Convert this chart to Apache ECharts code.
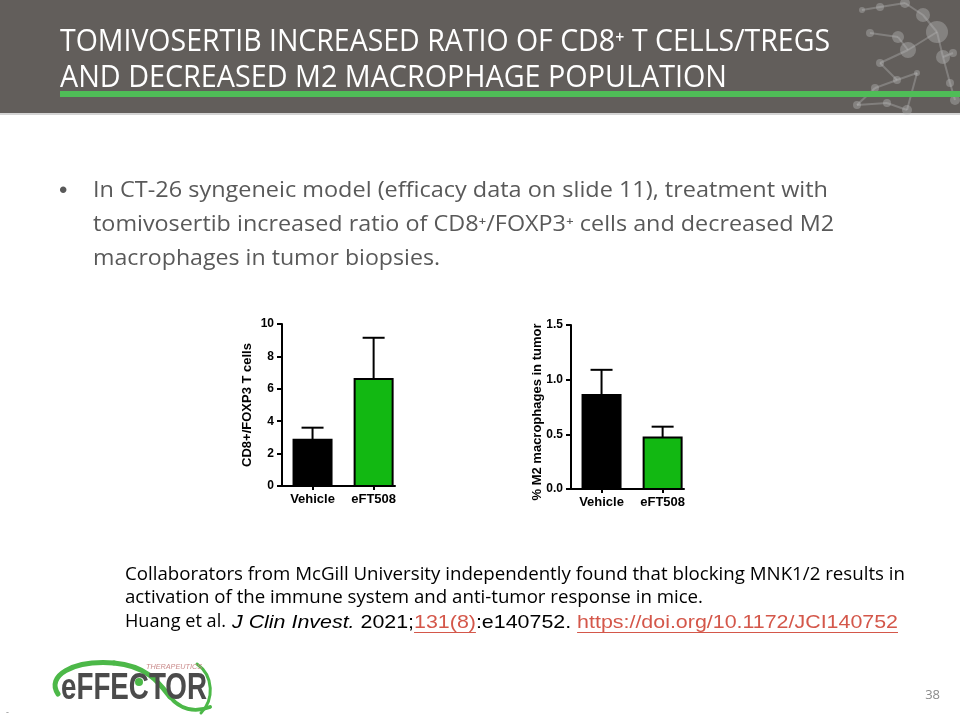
<!DOCTYPE html>
<html>
<head>
<meta charset="utf-8">
<script src="https://cdn.jsdelivr.net/npm/echarts@6/dist/echarts.min.js"></script>
<style>
html,body{margin:0;padding:0;background:#fff;}
#c{width:960px;height:720px;}
</style>
</head>
<body>
<div id="c"></div>
<script>
// ---------- data ----------
const categories = ['Vehicle', 'eFT508'];
const cd8Mean = [2.85, 6.6];
const cd8Upper = [3.6, 9.15];     // top of error bar (mean + SEM)
const m2Mean = [0.86, 0.47];
const m2Upper = [1.09, 0.57];
const barFill = ['#000000', '#12b812'];

const titleLines = ['TOMIVOSERTIB INCREASED RATIO OF CD8\u207A T CELLS/TREGS', 'AND DECREASED M2 MACROPHAGE POPULATION'];
const bulletLines = ['In CT-26 syngeneic model (efficacy data on slide 11), treatment with',
  'tomivosertib increased ratio of CD8\u207A/FOXP3\u207A cells and decreased M2',
  'macrophages in tumor biopsies.'];
const footLines = ['Collaborators from McGill University independently found that blocking MNK1/2 results in',
  'activation of the immune system and anti-tumor response in mice.'];
const refPieces = [
  {t: 'J Clin Invest.', italic: true, red: false},
  {t: ' 2021;', italic: false, red: false},
  {t: '131(8)', italic: false, red: true},
  {t: ':e140752. ', italic: false, red: false},
  {t: 'https://doi.org/10.1172/JCI140752', italic: false, red: true}
];

// ---------- helpers ----------
const mctx = document.createElement('canvas').getContext('2d');
function mw(font, s) { mctx.font = font; return mctx.measureText(s).width; }
function fitText(s, x, y, font, target, fill) {
  const sc = target / mw(font, s);
  return {type: 'text', x: x, y: y, scaleX: sc, z: 10,
    style: {text: s, font: font, fill: fill, align: 'left', verticalAlign: 'middle'}};
}
function bez(p, stroke, lw) {
  return {type: 'bezierCurve', z: 10,
    shape: {x1: p[0], y1: p[1], cpx1: p[2], cpy1: p[3], cpx2: p[4], cpy2: p[5], x2: p[6], y2: p[7]},
    style: {stroke: stroke, lineWidth: lw, fill: null, lineCap: 'round'}};
}

const els = [];
// header
els.push({type: 'rect', shape: {x: 0, y: 0, width: 960, height: 113}, style: {fill: '#625e5b'}, z: 1});
els.push({type: 'rect', shape: {x: 0, y: 113, width: 960, height: 2}, style: {fill: '#d4d4d4'}, z: 1});
// molecule decoration
const mol = [[923,15,7],[905,3,5],[898,37,6],[908,50,8],[937,32,11],[943,57,7],[953,53,4],[870,33,4],
  [880,63,4],[897,80,4],[917,73,3],[875,88,4],[857,105,4],[887,103,4],[907,110,5],[950,83,4],[880,7,4],[862,10,3],[955,100,5]];
const links = [[0,1],[0,4],[2,3],[3,4],[4,5],[5,6],[2,7],[3,8],[8,9],[9,10],[9,11],[11,12],[12,13],[13,14],[5,15],[1,16],[16,17],[15,18],[10,14]];
links.forEach(function (l) {
  els.push({type: 'line', z: 2, shape: {x1: mol[l[0]][0], y1: mol[l[0]][1], x2: mol[l[1]][0], y2: mol[l[1]][1]},
    style: {stroke: 'rgba(190,190,190,0.35)', lineWidth: 2}});
});
mol.forEach(function (m) {
  els.push({type: 'circle', z: 3, shape: {cx: m[0], cy: m[1], r: m[2]}, style: {fill: 'rgba(185,185,185,0.4)'}});
});
els.push({type: 'rect', shape: {x: 60, y: 91, width: 900, height: 6}, style: {fill: '#4fbd57'}, z: 5});
// title
const tFont = '31px "Open Sans"';
els.push(fitText(titleLines[0], 60, 42, tFont, 770, '#ffffff'));
els.push(fitText(titleLines[1], 60, 78, tFont, 667, '#ffffff'));
// bullet
const bFont = '21px "Open Sans"';
els.push({type: 'text', x: 59, y: 191, z: 10, style: {text: '\u2022', font: '24px "Liberation Sans"', fill: '#595959', align: 'left', verticalAlign: 'middle'}});
els.push(fitText(bulletLines[0], 93, 191, bFont, 735, '#595959'));
els.push(fitText(bulletLines[1], 93, 225, bFont, 741, '#595959'));
els.push(fitText(bulletLines[2], 93, 259, bFont, 347, '#595959'));
// footer text
const fFont = '18px "Open Sans"';
els.push(fitText(footLines[0], 125, 575, fFont, 780, '#000000'));
els.push(fitText(footLines[1], 125, 598, fFont, 578, '#000000'));
els.push(fitText('Huang et al.', 125, 622, fFont, 101, '#000000'));
(function () {
  const redC = '#d4574a';
  const fonts = refPieces.map(function (p) { return (p.italic ? 'italic ' : '') + '19px "Liberation Sans"'; });
  let total = 0;
  const ws = refPieces.map(function (p, i) { const w = mw(fonts[i], p.t); total += w; return w; });
  const sc = (898 - 232) / total;
  let x = 232;
  refPieces.forEach(function (p, i) {
    els.push({type: 'text', x: x, y: 623, scaleX: sc, z: 10,
      style: {text: p.t, font: fonts[i], fill: p.red ? redC : '#000000', align: 'left', verticalAlign: 'middle'}});
    if (p.red) {
      els.push({type: 'line', z: 10, shape: {x1: x, y1: 632.5, x2: x + ws[i] * sc, y2: 632.5}, style: {stroke: redC, lineWidth: 1}});
    }
    x += ws[i] * sc;
  });
})();
// axis titles
els.push({type: 'text', x: 247, y: 405, rotation: Math.PI / 2, z: 10,
  style: {text: 'CD8+/FOXP3 T cells', font: 'bold 13px "Liberation Sans"', fill: '#000', align: 'center', verticalAlign: 'middle'}});
els.push({type: 'text', x: 537, y: 412, rotation: Math.PI / 2, z: 10,
  style: {text: '% M2 macrophages in tumor', font: 'bold 13px "Liberation Sans"', fill: '#000', align: 'center', verticalAlign: 'middle'}});
// logo
const green = '#4cb848';
els.push(bez([58,694, 46,676, 72,660, 114,663], green, 5));
els.push(bez([114,663, 148,666, 160,684, 170,697], green, 5));
els.push(bez([170,697, 180,709, 194,713, 210,707], green, 4));
els.push(bez([197,664, 214,676, 214,700, 201,713], green, 3));
els.push(fitText('eFFECTOR', 61, 689, 'bold 36px "Liberation Sans"', 146, '#4b4b4b'));
els.push({type: 'circle', z: 11, shape: {cx: 139, cy: 682, r: 4}, style: {fill: green}});
els.push(fitText('THERAPEUTICS', 146, 667, 'italic 8px "Liberation Sans"', 56, '#c98a8a'));
// page number etc
els.push({type: 'text', x: 940, y: 695, z: 10, style: {text: '38', font: '13px "Open Sans"', fill: '#8a8a8a', align: 'right', verticalAlign: 'middle'}});
els.push({type: 'text', x: 6, y: 712, z: 10, style: {text: '-', font: '9px "Open Sans"', fill: '#888', align: 'left', verticalAlign: 'middle'}});

// ---------- charts ----------
function renderBar(params, api) {
  const i = api.value(0), m = api.value(1), up = api.value(2);
  const base = api.coord([i, 0]);
  const top = api.coord([i, m]);
  const eb = api.coord([i, up]);
  const w = 40;
  return {type: 'group', children: [
    {type: 'rect', shape: {x: base[0] - w / 2 + 1, y: top[1], width: w - 2, height: base[1] - top[1]},
      style: {fill: barFill[i], stroke: '#000', lineWidth: 2}},
    {type: 'line', shape: {x1: top[0], y1: top[1], x2: eb[0], y2: eb[1]}, style: {stroke: '#000', lineWidth: 2}},
    {type: 'line', shape: {x1: eb[0] - 11, y1: eb[1], x2: eb[0] + 11, y2: eb[1]}, style: {stroke: '#000', lineWidth: 2}}
  ]};
}
function xAx(gi) {
  return {type: 'value', gridIndex: gi, min: -0.5, max: 1.35, splitLine: {show: false},
    axisLine: {show: true, onZero: false, lineStyle: {color: '#000', width: 2}},
    axisTick: {show: true, customValues: [0, 1], length: 4, lineStyle: {color: '#000', width: 2}},
    axisLabel: {show: true, customValues: [0, 1], margin: 7, color: '#000',
      fontFamily: 'Liberation Sans', fontWeight: 'bold', fontSize: 13,
      formatter: function (v) { return categories[Math.round(v)] || ''; }}};
}
function yAx(gi, max, interval, dec) {
  return {type: 'value', gridIndex: gi, min: 0, max: max, interval: interval, splitLine: {show: false},
    axisLine: {show: true, onZero: false, lineStyle: {color: '#000', width: 2}},
    axisTick: {show: true, length: 5, lineStyle: {color: '#000', width: 2}},
    axisLabel: {margin: 8, color: '#000', fontFamily: 'Liberation Sans', fontWeight: 'bold', fontSize: 12,
      formatter: function (v) { return dec ? v.toFixed(1) : String(v); }}};
}

const chart = echarts.init(document.getElementById('c'), null, {renderer: 'canvas'});
chart.setOption({
  animation: false,
  backgroundColor: '#ffffff',
  grid: [
    {left: 282, top: 324, width: 113, height: 162},
    {left: 571, top: 325, width: 113, height: 164}
  ],
  xAxis: [xAx(0), xAx(1)],
  yAxis: [yAx(0, 10, 2, false), yAx(1, 1.5, 0.5, true)],
  series: [
    {type: 'custom', xAxisIndex: 0, yAxisIndex: 0, renderItem: renderBar, encode: {x: 0, y: 1},
      data: categories.map(function (c, i) { return [i, cd8Mean[i], cd8Upper[i]]; })},
    {type: 'custom', xAxisIndex: 1, yAxisIndex: 1, renderItem: renderBar, encode: {x: 0, y: 1},
      data: categories.map(function (c, i) { return [i, m2Mean[i], m2Upper[i]]; })}
  ],
  graphic: {elements: els}
});
</script>
</body>
</html>
